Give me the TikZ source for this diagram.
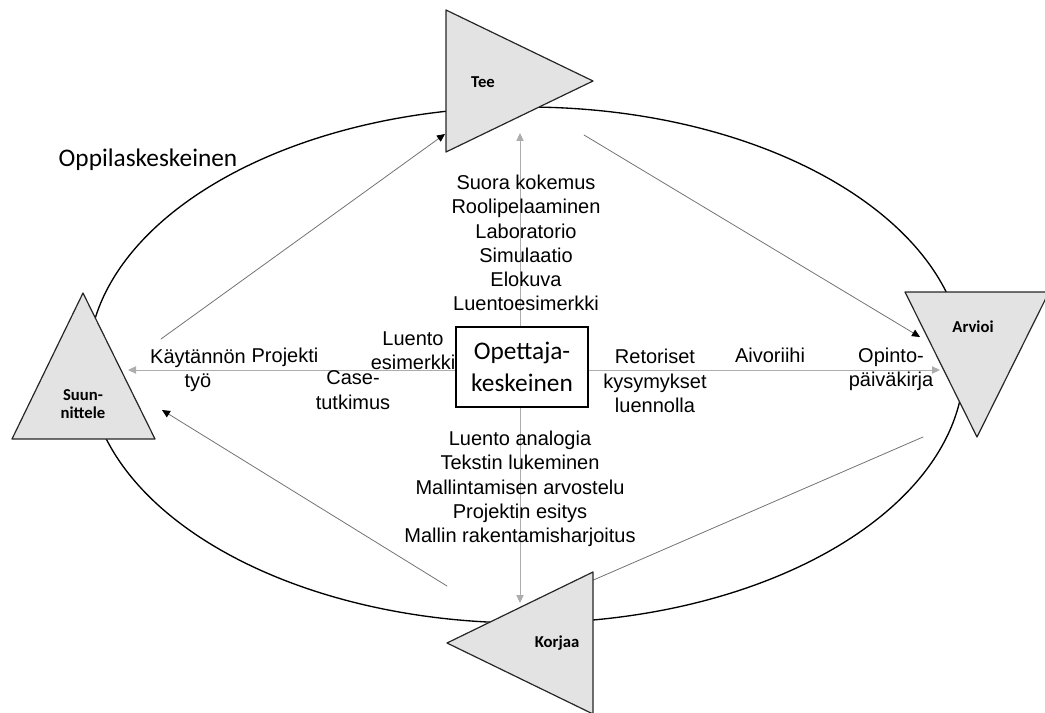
\documentclass[tikz,border=0pt]{standalone}
\usepackage{fontspec}
\setmainfont{Liberation Sans}
\newfontfamily\calibfont{Carlito}
\usepackage{tkz-euclide}
\usetikzlibrary{arrows.meta}
\definecolor{TriClr}{rgb}{0.89,0.89,0.89}
\definecolor{AxisClr}{rgb}{0.68,0.68,0.68}
\definecolor{CycleClr}{rgb}{0.45,0.45,0.45}

\begin{document}
\begin{tikzpicture}[x=0.75pt,y=-0.75pt,
  txt/.style={align=center,font=\fontsize{15}{18.2}\selectfont},
  lbl/.style={align=center,font=\calibfont\bfseries\fontsize{12.5}{13.5}\selectfont},
  axisarrow/.style={draw=AxisClr,line width=0.7pt,-{Triangle[length=6pt,width=5.5pt]}},
  cyclearrow/.style={draw=CycleClr,line width=0.6pt,-{Triangle[length=6pt,width=5.5pt,color=black]}}]
\tkzSetUpLine[line width=0.9pt,color=black!85]
\useasboundingbox (0,0) rectangle (1045,713);

\tkzDefPoints{446/10/T1,446/152/T2,593/81/T3,905/292/A1,1049/292/A2,977/437/A3}
\tkzDefPoints{593/572/K1,593/714/K2,447/643/K3,83/293/S1,155/439/S2,12/439/S3}
\tkzDefPoints{161/339/S4,445/134/T4,584/135/T5,920/337/A4}
\tkzDefPoints{923/437/A5,575/588/K4,447/586/K5,162/410/S5}
\tkzDefPoints{520/133/tipN,520/603/tipS,128/370/tipW,940/370/tipE}

\draw[line width=1pt] (526,365) ellipse (438 and 258);

\tkzDrawSegments[cyclearrow](S4,T4 T5,A4 A5,K4 K5,S5)

\node[draw,fill=white,line width=1pt,minimum width=99pt,minimum height=60pt,inner sep=0pt,
  align=center,font=\calibfont\fontsize{19}{23.5}\selectfont] (teach) at (522,367) {Opettaja-\\keskeinen};
\draw[axisarrow] (tipN |- teach.north) -- (tipN);
\draw[axisarrow] (tipS |- teach.south) -- (tipS);
\draw[axisarrow] (teach.west |- tipW) -- (tipW);
\draw[axisarrow] (teach.east |- tipE) -- (tipE);

\tkzFillPolygon[fill=TriClr](T1,T2,T3)
\tkzFillPolygon[fill=TriClr](A1,A2,A3)
\tkzFillPolygon[fill=TriClr](K1,K2,K3)
\tkzFillPolygon[fill=TriClr](S1,S2,S3)
\tkzDrawPolygon(T1,T2,T3)
\tkzDrawPolygon(A1,A2,A3)
\tkzDrawPolygon(K1,K2,K3)
\tkzDrawPolygon(S1,S2,S3)

\node[lbl] (tee) at (483,82) {Tee};
\node[lbl] (arvioi) at (973,327) {Arvioi};
\node[lbl] (korjaa) at (557,643) {Korjaa};
\node[lbl] (suunn) at (83,404) {Suun-\\nittele};

\node[font=\calibfont\fontsize{19}{23}\selectfont] (oppilas) at (148,160) {Oppilaskeskeinen};
\node[txt] (ylos) at (526,243) {Suora kokemus\\Roolipelaaminen\\Laboratorio\\Simulaatio\\Elokuva\\Luentoesimerkki};
\node[txt] (alas) at (520,489) {Luento analogia\\Tekstin lukeminen\\Mallintamisen arvostelu\\Projektin esitys\\Mallin rakentamisharjoitus};
\node[txt] (luento) at (413,351) {Luento\\esimerkki};
\node[txt] (case) at (353,390) {Case-\\tutkimus};
\node[txt] (kaytto) at (198,371) {Käytännön\\työ};
\node[txt] (projekti) at (285,357) {Projekti};
\node[txt] (retor) at (655,381) {Retoriset\\kysymykset\\luennolla};
\node[txt] (aivo) at (770,355) {Aivoriihi};
\node[txt] (opinto) at (891,369) {Opinto-\\päiväkirja};

\end{tikzpicture}
\end{document}
